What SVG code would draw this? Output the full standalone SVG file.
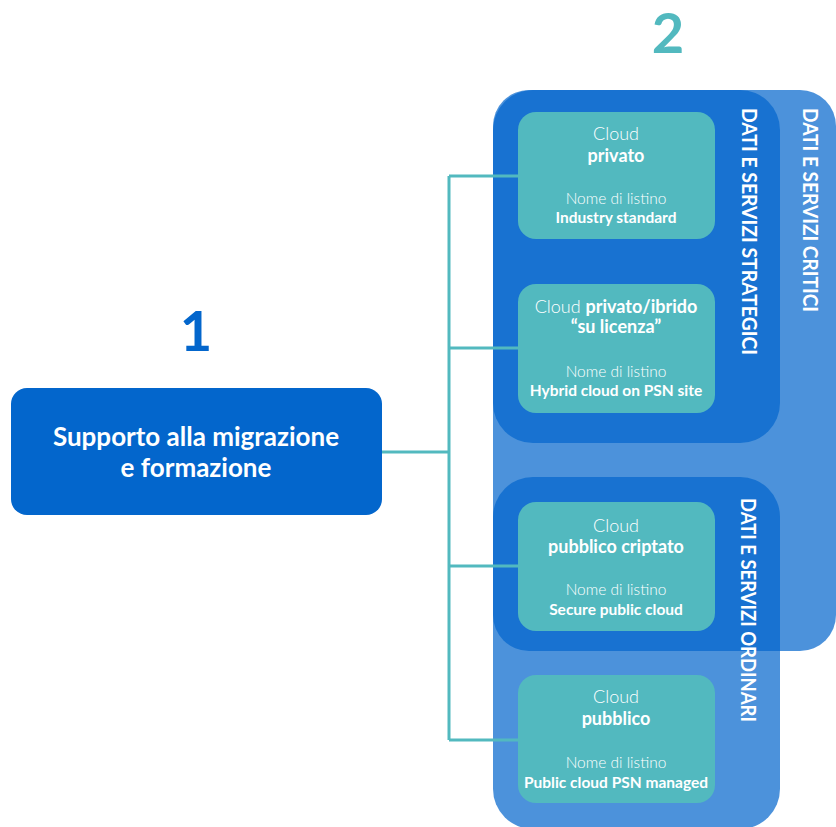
<svg xmlns="http://www.w3.org/2000/svg" width="836" height="827" viewBox="0 0 836 827">
<style>
.zone{fill:#0366CC;fill-opacity:0.71}
.card{fill:#52B9BF}
.t{font-family:Lato,"Open Sans","Liberation Sans",sans-serif;fill:#fff;text-anchor:middle}
.lt{font-weight:300}
.bd{font-weight:700}
.big{font-size:18px}
.sm{font-size:15.5px}
.vl{font-family:Lato,"Open Sans","Liberation Sans",sans-serif;fill:#fff;font-weight:700;font-size:20px}
.num{font-family:Lato,"Open Sans","Liberation Sans",sans-serif;font-weight:700;font-size:56px;text-anchor:middle}
.conn{stroke:#52B9BF;stroke-width:3;fill:none}
</style>
<rect width="836" height="827" fill="#fff"/>
<g id="zones">
<rect id="critici" class="zone" x="493" y="90" width="343" height="561" rx="36"/>
<rect id="strategici" class="zone" x="493" y="90" width="287" height="353" rx="40"/>
<rect id="ordinari" class="zone" x="493" y="477" width="287" height="352" rx="40"/>
<text class="vl" transform="translate(742,108) rotate(90)" textLength="247" lengthAdjust="spacingAndGlyphs">DATI E SERVIZI STRATEGICI</text>
<text class="vl" transform="translate(803,108) rotate(90)" textLength="204" lengthAdjust="spacingAndGlyphs">DATI E SERVIZI CRITICI</text>
<text class="vl" transform="translate(741,498) rotate(90)" textLength="224" lengthAdjust="spacingAndGlyphs">DATI E SERVIZI ORDINARI</text>
</g>
<text class="num" x="196" y="351" fill="#0366CC">1</text>
<text class="num" x="668" y="53" fill="#52B9BF">2</text>
<g id="connectors">
<path class="conn" d="M382 452H449M449 176V740M449 176H518M449 348H518M449 566H518M449 740H518"/>
</g>
<g id="main">
<rect x="11" y="388" width="371" height="127" rx="16" fill="#0366CC"/>
<text class="t bd" x="196" y="446" font-size="26">Supporto alla migrazione</text>
<text class="t bd" x="196" y="477" font-size="26">e formazione</text>
</g>
<g id="privato">
<rect class="card" x="518" y="112" width="197" height="127" rx="18"/>
<text class="t lt big" x="616" y="140">Cloud</text>
<text class="t bd big" x="616" y="162">privato</text>
<text class="t lt sm" x="616" y="204">Nome di listino</text>
<text class="t bd sm" x="616" y="223">Industry standard</text>
</g>
<g id="ibrido">
<rect class="card" x="518" y="284" width="197" height="129" rx="18"/>
<text class="t big" x="616" y="313"><tspan class="lt">Cloud </tspan><tspan class="bd">privato/ibrido</tspan></text>
<text class="t bd big" x="616" y="333">“su licenza”</text>
<text class="t lt sm" x="616" y="377">Nome di listino</text>
<text class="t bd sm" x="616" y="396">Hybrid cloud on PSN site</text>
</g>
<g id="criptato">
<rect class="card" x="518" y="502" width="197" height="129" rx="18"/>
<text class="t lt big" x="616" y="532">Cloud</text>
<text class="t bd big" x="616" y="553">pubblico criptato</text>
<text class="t lt sm" x="616" y="595">Nome di listino</text>
<text class="t bd sm" x="616" y="615">Secure public cloud</text>
</g>
<g id="pubblico">
<rect class="card" x="518" y="675" width="197" height="128" rx="18"/>
<text class="t lt big" x="616" y="703">Cloud</text>
<text class="t bd big" x="616" y="725">pubblico</text>
<text class="t lt sm" x="616" y="768">Nome di listino</text>
<text class="t bd sm" x="616" y="788">Public cloud PSN managed</text>
</g>
</svg>
